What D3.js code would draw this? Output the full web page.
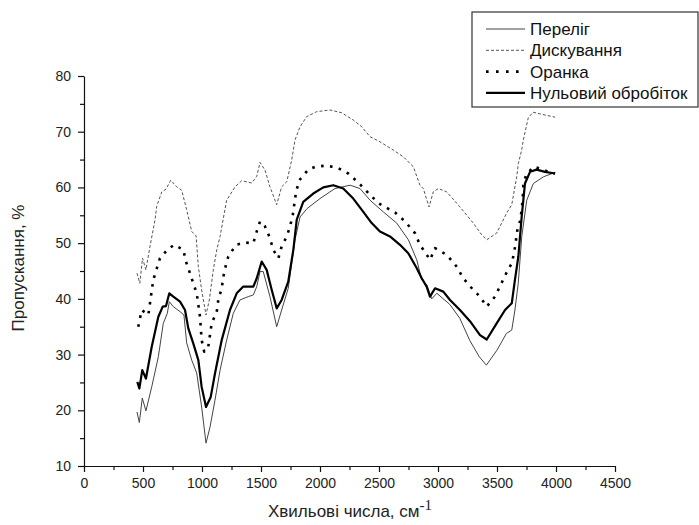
<!DOCTYPE html>
<html>
<head>
<meta charset="utf-8">
<script src="https://cdn.jsdelivr.net/npm/d3@7"></script>
<style>
  body { margin: 0; background: #fff; }
  svg { font-family: "Liberation Sans", Arial, sans-serif; }
</style>
</head>
<body>
<svg id="chart" width="699" height="525"></svg>
<script>
// [wavenumber, transmittance %]
const perelih = [
  [449,19.7],[469,17.8],[494,22.2],[525,19.9],[574,24.2],[630,29.6],[672,35.6],[706,37.4],
  [723,39.5],[757,38.6],[814,37.7],[847,37.1],[870,32.1],[913,29],[955,26.7],[997,20.6],
  [1034,14.1],[1068,17],[1110,21.8],[1153,27.2],[1209,32.6],[1265,37.4],[1322,39.8],[1392,40.4],
  [1435,40.7],[1464,42.2],[1492,44.9],[1519,44.9],[1576,40.4],[1633,35],[1675,38],[1731,41.9],
  [1788,50.6],[1831,54.7],[1890,56.2],[2000,58],[2127,59.8],[2255,60.4],[2339,59.8],[2424,57.7],
  [2537,55.6],[2650,53.6],[2749,50.6],[2820,47],[2862,43.4],[2905,42.5],[2947,40],[2990,41],
  [3100,39],[3185,36.5],[3270,32.5],[3350,29.6],[3410,28.1],[3500,30.8],[3580,33.8],[3625,34.4],
  [3652,38],[3680,42.8],[3710,51.2],[3752,57.7],[3808,60.7],[3893,61.9],[3992,62.7]
];
const dyskuvannia = [
  [449,44.6],[473,42.8],[496,47.3],[525,45.2],[559,49.4],[602,54.2],[616,56.6],[659,59.2],
  [695,59.7],[735,61.3],[786,60.1],[828,59.5],[870,56],[913,52.1],[950,51.3],[969,45.8],
  [997,41.6],[1034,37.1],[1062,39.8],[1096,45.2],[1125,48.8],[1153,51.2],[1209,57.7],[1280,60.1],
  [1336,61.2],[1379,61],[1421,60.8],[1464,62],[1492,64.5],[1534,63.1],[1576,60.1],[1633,56.9],
  [1675,60.1],[1718,61],[1760,64.9],[1788,68.5],[1831,70.9],[1887,72.7],[1972,73.6],[2085,73.9],
  [2184,73.4],[2282,72.1],[2353,70.9],[2424,69.1],[2508,68.2],[2621,66.7],[2706,65.5],[2791,63.7],
  [2847,60.4],[2875,59.8],[2924,56.5],[2960,59.2],[3003,59.8],[3074,59.2],[3186,56.5],[3299,53.6],
  [3370,51.5],[3413,50.6],[3497,51.8],[3582,55.4],[3625,56.9],[3667,61.9],[3681,64.3],[3709,66.7],
  [3723,68.5],[3765,72.5],[3805,73.5],[3864,73.2],[3992,72.6]
];
const oranka = [
  [460,35],[489,38],[545,37.1],[559,39.2],[587,43.4],[644,47.3],[706,48.8],[763,49.7],
  [842,48.8],[864,46.7],[898,44.6],[926,42.8],[955,41],[969,38.9],[983,36.8],[997,32.6],
  [1019,30.5],[1053,31.4],[1082,35.6],[1125,37.7],[1138,39.8],[1167,41.9],[1181,44],[1203,46.1],
  [1223,47.6],[1288,49.7],[1364,50.1],[1435,50],[1464,52.1],[1492,53.9],[1534,53],[1576,50.9],
  [1604,48.8],[1647,47.3],[1675,49.4],[1718,51.2],[1746,53],[1769,55],[1797,59.2],[1825,61.3],
  [1901,63.2],[1958,63.7],[2042,63.9],[2142,63.6],[2240,62.5],[2333,60.7],[2409,59],[2494,57.2],
  [2593,56],[2636,55.5],[2720,53.9],[2805,51.8],[2847,49.7],[2896,48.2],[2932,47],[2975,49.1],
  [3074,47.9],[3158,45.8],[3214,43.7],[3299,41.6],[3356,40.4],[3413,38.6],[3483,40.4],[3531,42.5],
  [3576,44.5],[3625,46.4],[3647,48.5],[3661,50.6],[3675,52.7],[3695,53.9],[3709,56],[3718,58],
  [3723,60.3],[3746,62.2],[3808,63.7],[3864,63.4],[3935,62.8],[3992,62.5]
];
const nulovyi = [
  [452,25.1],[469,23.9],[494,27.2],[525,25.7],[574,31.4],[630,36.8],[667,38.6],[695,38.7],
  [723,41],[757,40.4],[814,39.5],[856,38],[884,34.7],[926,32],[969,29],[997,24.2],
  [1034,20.6],[1074,22.4],[1110,26.6],[1167,32.6],[1237,38],[1294,41],[1350,42.2],[1435,42.2],
  [1464,43.7],[1506,46.7],[1548,45.2],[1591,41.6],[1633,38.3],[1675,39.8],[1731,43.1],[1774,48.8],
  [1803,54.2],[1858,57.4],[1943,58.9],[2028,60],[2113,60.4],[2197,59.8],[2282,58],[2367,55.6],
  [2438,53.6],[2508,52.1],[2593,51.2],[2678,49.7],[2748,48.2],[2820,45.5],[2862,43.7],[2904,42.2],
  [2932,40.4],[2975,41.9],[3045,41.3],[3102,39.8],[3186,38],[3271,36],[3356,33.5],[3413,32.7],
  [3497,35.6],[3568,38],[3625,39.2],[3652,43.4],[3681,47.6],[3709,54.7],[3737,60.7],[3780,62.8],
  [3836,63.2],[3907,62.8],[3992,62.5]
];

const seriesNames = ["Переліг", "Дискування", "Оранка", "Нульовий обробіток"];
const xTicks = [0, 500, 1000, 1500, 2000, 2500, 3000, 3500, 4000, 4500];
const yTicks = [10, 20, 30, 40, 50, 60, 70, 80];

const svg = d3.select("#chart");

const x = d3.scaleLinear().domain([0, 4500]).range([84, 615]);
const y = d3.scaleLinear().domain([10, 80]).range([466, 76]);

// axes
svg.append("g").attr("transform", "translate(0,466)")
  .call(d3.axisBottom(x).tickValues(xTicks).tickFormat(d3.format("d"))
    .tickSize(6).tickSizeOuter(0).tickPadding(6));
svg.append("g").attr("transform", "translate(0,466)")
  .call(d3.axisBottom(x).tickValues(d3.range(250, 4500, 500)).tickSize(4).tickFormat(""))
  .select(".domain").remove();

svg.append("g").attr("transform", "translate(84,0)")
  .call(d3.axisLeft(y).tickValues(yTicks).tickFormat(d3.format("d"))
    .tickSize(6).tickSizeOuter(0).tickPadding(7));
svg.append("g").attr("transform", "translate(84,0)")
  .call(d3.axisLeft(y).tickValues(d3.range(15, 80, 10)).tickSize(4).tickFormat(""))
  .select(".domain").remove();

svg.selectAll(".domain, .tick line").attr("stroke", "#111").attr("stroke-width", 1.2);
svg.selectAll(".tick text").attr("font-size", 14).attr("fill", "#222")
  .attr("font-family", "Liberation Sans, Arial, sans-serif");

// axis titles
svg.append("text")
  .attr("transform", "translate(24,268) rotate(-90)")
  .attr("text-anchor", "middle")
  .attr("font-size", 17).attr("fill", "#222")
  .text("Пропускання, %");

const xt = svg.append("text")
  .attr("x", 350).attr("y", 517)
  .attr("text-anchor", "middle")
  .attr("font-size", 17).attr("fill", "#222");
xt.append("tspan").text("Хвильові числа, см");
xt.append("tspan").attr("dy", -7).attr("font-size", 15)
  .attr("font-family", "Liberation Serif, Times New Roman, serif").text("-1");

// lines
const line = d3.line().x(d => x(d[0])).y(d => y(d[1]));

const styles = [
  { data: perelih, stroke: "#444", width: 1, dash: null },
  { data: dyskuvannia, stroke: "#555", width: 1, dash: "3,2" },
  { data: oranka, stroke: "#000", width: 2.6, dash: "2.6,6.4" },
  { data: nulovyi, stroke: "#000", width: 2.2, dash: null }
];

styles.forEach(s => {
  svg.append("path")
    .datum(s.data)
    .attr("d", line)
    .attr("fill", "none")
    .attr("stroke", s.stroke)
    .attr("stroke-width", s.width)
    .attr("stroke-dasharray", s.dash)
    .attr("stroke-linejoin", "round");
});

// legend
const legend = svg.append("g");
legend.append("rect")
  .attr("x", 472).attr("y", 12).attr("width", 226).attr("height", 95)
  .attr("fill", "#fff").attr("stroke", "#333").attr("stroke-width", 1.2);

seriesNames.forEach((name, i) => {
  const ly = 29 + i * 21.3;
  const s = styles[i];
  legend.append("line")
    .attr("x1", 486).attr("x2", 525).attr("y1", ly).attr("y2", ly)
    .attr("stroke", s.stroke).attr("stroke-width", s.width)
    .attr("stroke-dasharray", i === 2 ? "2.6,7.4" : s.dash);
  legend.append("text")
    .attr("x", 530).attr("y", ly).attr("dy", "0.35em")
    .attr("font-size", 17).attr("fill", "#111")
    .text(name);
});
</script>
</body>
</html>
